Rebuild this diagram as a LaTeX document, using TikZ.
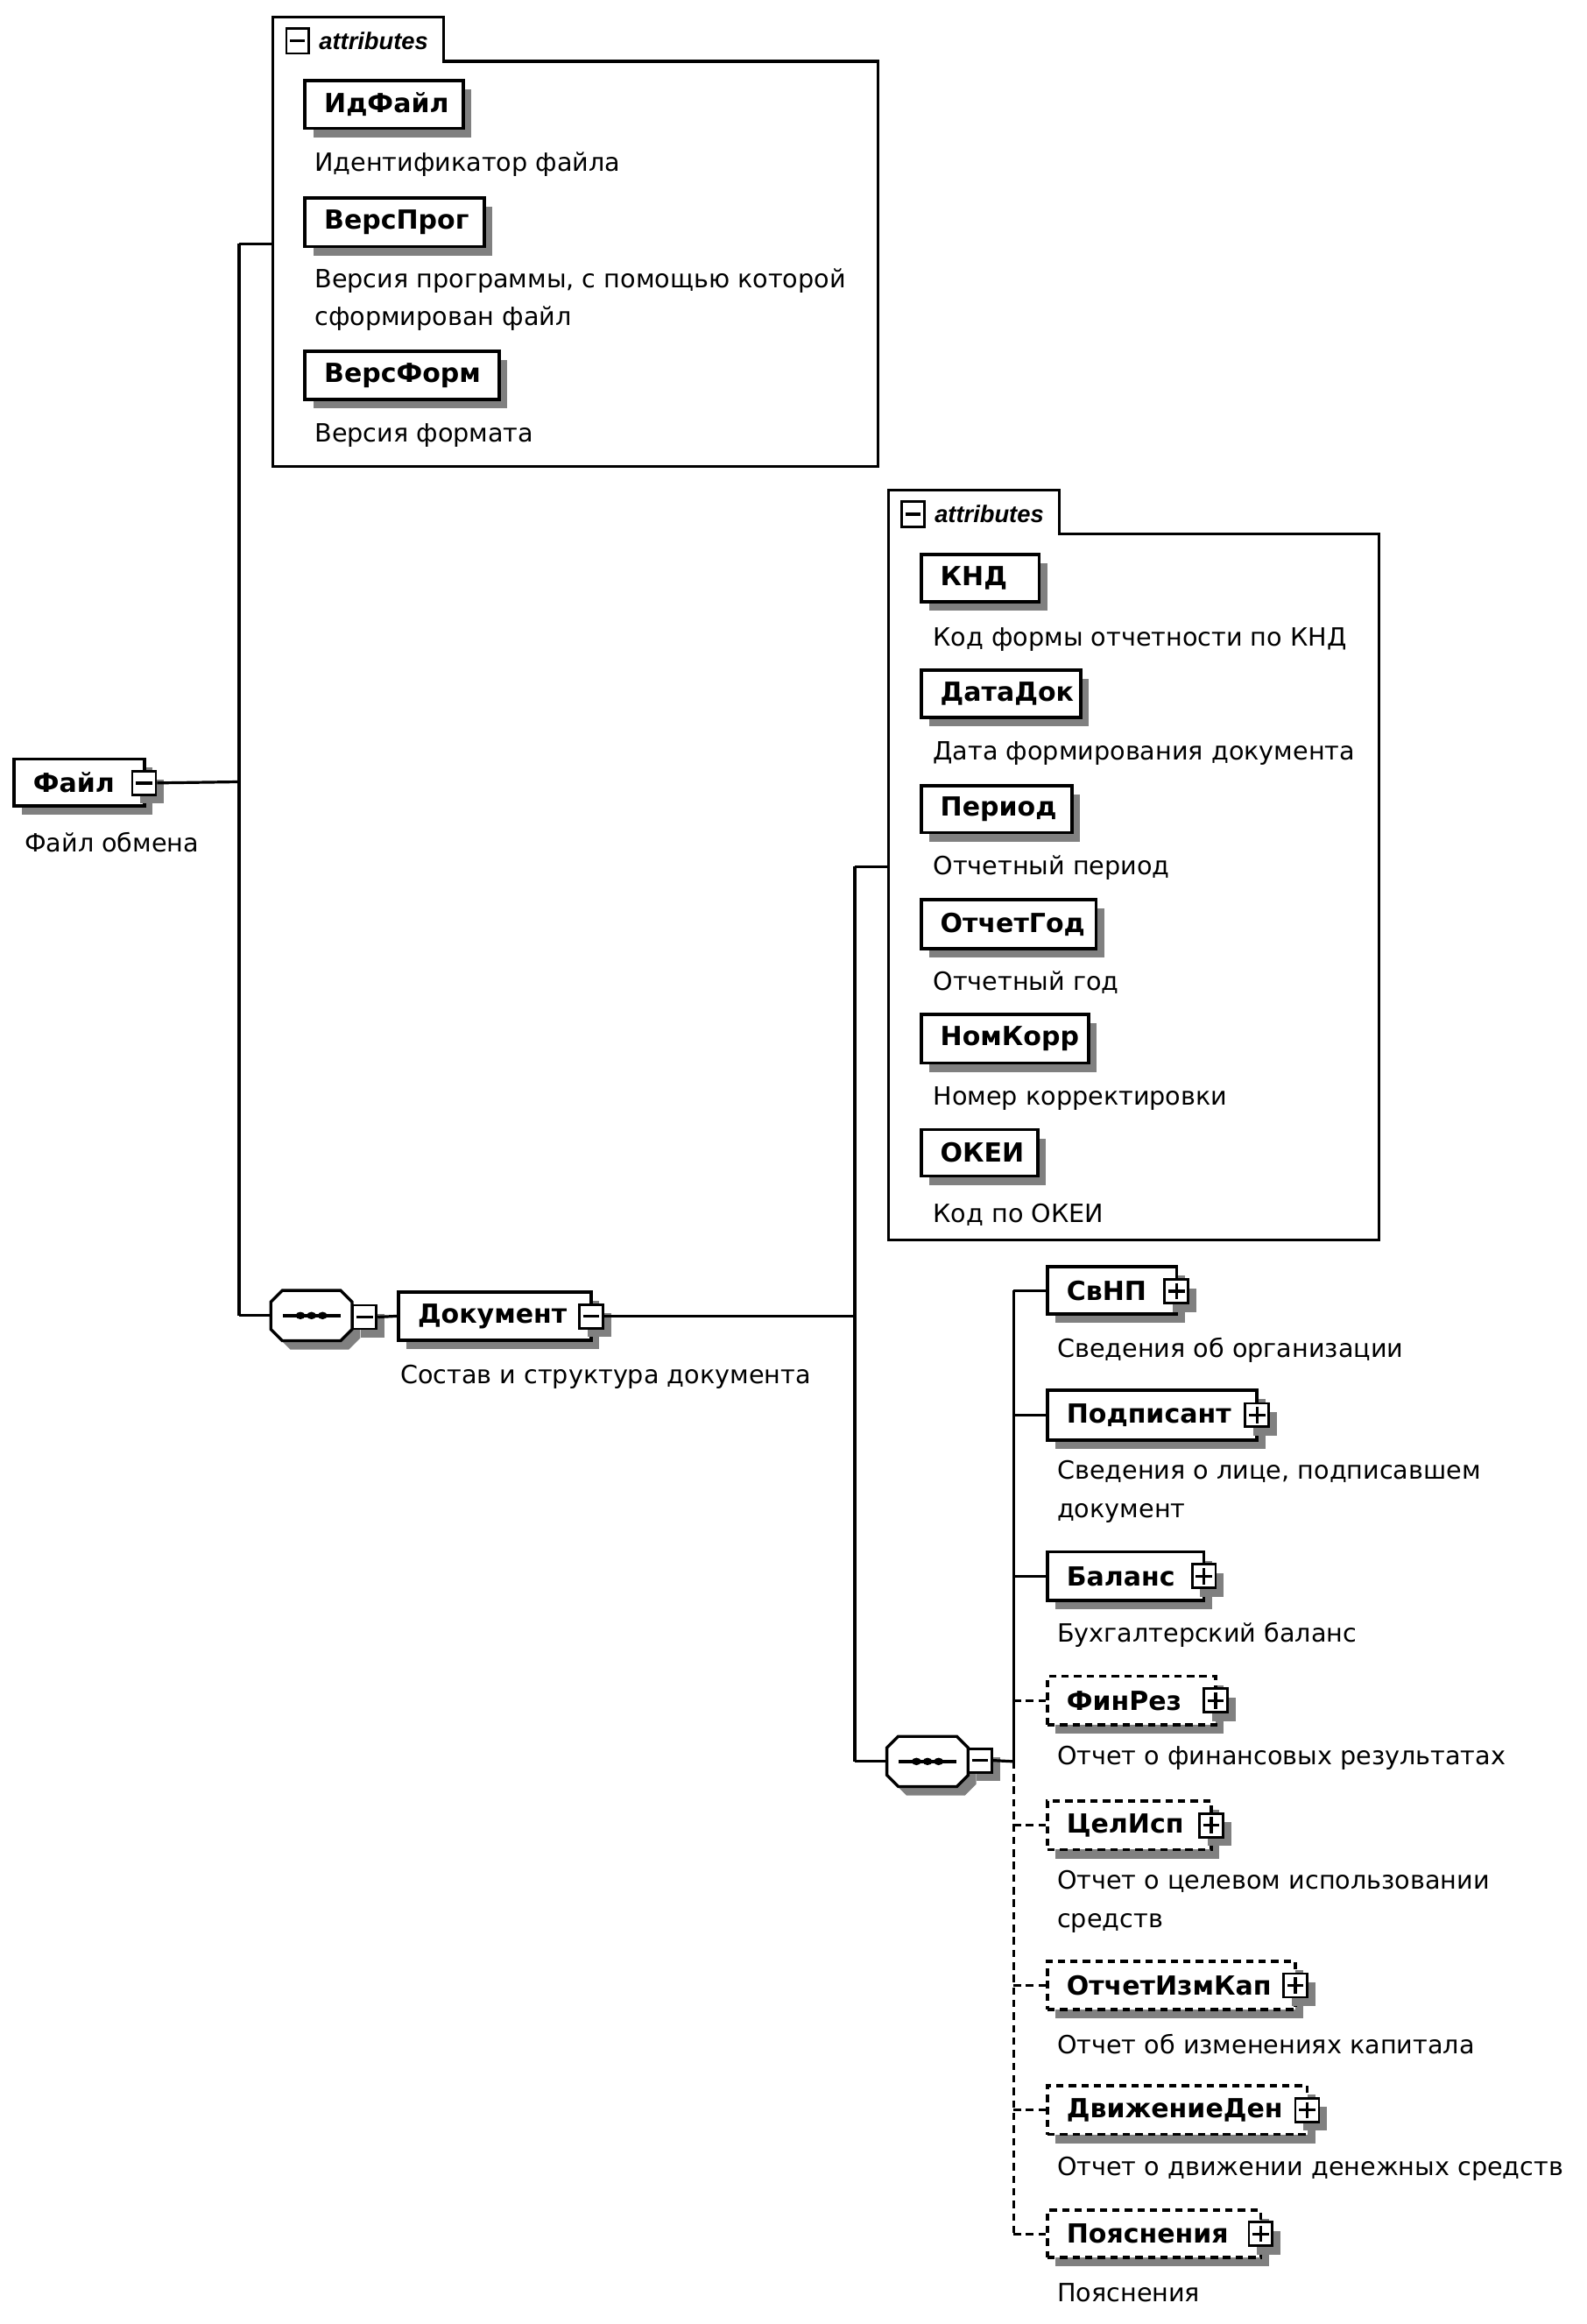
\documentclass[tikz,border=0pt]{standalone}
\usepackage{fontspec}
\setmainfont{DejaVu Sans}
\newfontfamily\attrfamily{Liberation Sans}
\usetikzlibrary{shadows}
\newcommand\lblfont{\bfseries\fontsize{17.8}{20}\selectfont}
\newcommand\dscfont{\fontsize{17}{26}\selectfont}
\newcommand\elbox[7][]{%
  \pgfmathsetmacro\bw{#5-#3}%
  \pgfmathsetmacro\bh{#6-#4}%
  \pgfmathsetmacro\bx{(#3+#5)/2}%
  \pgfmathsetmacro\by{(#4+#6)/2}%
  \pgfmathsetmacro\tw{\bw-26}%
  \node[elem,#1,minimum width=\bw pt,minimum height=\bh pt] (#2) at (\bx,\by) {\makebox[\tw pt][l]{#7}};}
\newcommand\seqnode[3]{%
  \pgfmathsetmacro\sqL{#2-27.5}\pgfmathsetmacro\sqR{#2+27.5}%
  \pgfmathsetmacro\sqT{#3-17}\pgfmathsetmacro\sqB{#3+17}%
  \fill[shadcol,shift={(5.5,6)}] ({\sqL+7.7},\sqT) -- ({\sqR-7.7},\sqT) -- (\sqR,{\sqT+7.7}) -- (\sqR,{\sqB-7.7}) -- ({\sqR-7.7},\sqB) -- ({\sqL+7.7},\sqB) -- (\sqL,{\sqB-7.7}) -- (\sqL,{\sqT+7.7}) -- cycle;
  \draw[line width=2pt,fill=white] ({\sqL+7.7},\sqT) -- ({\sqR-7.7},\sqT) -- (\sqR,{\sqT+7.7}) -- (\sqR,{\sqB-7.7}) -- ({\sqR-7.7},\sqB) -- ({\sqL+7.7},\sqB) -- (\sqL,{\sqB-7.7}) -- (\sqL,{\sqT+7.7}) -- cycle;
  \node[minimum width=55pt,minimum height=34pt,inner sep=0pt] (#1) at (#2,#3) {};
  \draw[line width=2.4pt] ({\sqL+8},#3) -- ({\sqR-8},#3);
  \foreach \d in {-7.5,0,7.5} \fill ({#2+\d},#3) ellipse (3.2pt and 2.5pt);}
\colorlet{shadcol}{black!50}
\tikzset{
  shad/.style={drop shadow={shadow xshift=5.5pt,shadow yshift=-6pt,fill=shadcol,opacity=1}},
  elem/.style={draw,line width=2.2pt,fill=white,inner xsep=13pt,inner ysep=0pt,font=\lblfont,shad},
  opt/.style={dash pattern=on 5pt off 3.5pt},
  expm/.style={draw,line width=1.7pt,fill=white,minimum width=16pt,minimum height=16pt,inner sep=0pt,
    path picture={\draw[line width=2pt] ([xshift=2.5pt]path picture bounding box.west) -- ([xshift=-2.5pt]path picture bounding box.east);}},
  expp/.style={draw,line width=1.7pt,fill=white,minimum width=16pt,minimum height=16pt,inner sep=0pt,
    path picture={\draw[line width=2pt] ([xshift=2.5pt]path picture bounding box.west) -- ([xshift=-2.5pt]path picture bounding box.east);
      \draw[line width=2pt] ([yshift=-2.5pt]path picture bounding box.north) -- ([yshift=2.5pt]path picture bounding box.south);}},
  desc/.style={anchor=west,inner sep=0pt,font=\dscfont,align=left},
  conn/.style={line width=1.9pt},
  abox/.style={line width=1.9pt},
  alabel/.style={anchor=west,inner sep=0pt,font=\attrfamily\bfseries\itshape\fontsize{16.2}{18}\selectfont},
}
\begin{document}
\begin{tikzpicture}[x=1pt,y=-1pt]
\useasboundingbox (0,0) rectangle (1075,1574);
% ---------- attributes of Файл
\draw[abox] (185,316) -- (185,11.5) -- (300.6,11.5) -- (300.6,41.5) -- (595,41.5) -- (595,316) -- cycle;
\node[expm,minimum width=15pt,minimum height=17pt] (a1m) at (201.5,27.7) {};
\node[alabel] (a1lbl) at (216,27.5) {attributes};
\coordinate (a1in) at (185,165);
\elbox{idf}{206.6}{54.4}{313.8}{87}{ИдФайл}
\node[desc] (idfd) at (213,111.5) {Идентификатор файла};
\elbox{vprog}{206.6}{134}{328}{167}{ВерсПрог}
\node[desc] (vprogd) at (213,203) {Версия программы, с помощью которой\\сформирован файл};
\elbox{vform}{206.6}{238}{338}{270.5}{ВерсФорм}
\node[desc] (vformd) at (213,295) {Версия формата};
% ---------- Файл
\elbox{file}{9.5}{514}{98}{546}{Файл}
\node[expm,shad] (filex) at (97.6,530.3) {};
\node[desc] (filed) at (16.5,570.5) {Файл обмена};
\coordinate (j0) at (162,529.5);
\coordinate (j1) at (162,165);
\coordinate (j2) at (162,891);
% ---------- sequence 1 and Документ
\seqnode{seq1}{211}{891}
\node[expm,shad] (seq1x) at (247,892) {};
\elbox{doc}{270}{875}{400.5}{907.7}{Документ}
\node[expm,shad] (docx) at (400.4,891.5) {};
\node[desc] (docd) at (271,932.4) {Состав и структура документа};
\coordinate (j3) at (579,891.5);
\coordinate (j4) at (579,587);
\coordinate (j5) at (579,1193);
% ---------- attributes of Документ
\draw[abox] (602,840) -- (602,332) -- (717.7,332) -- (717.7,361.5) -- (934,361.5) -- (934,840) -- cycle;
\node[expm,minimum width=15pt,minimum height=17pt] (a2m) at (618.5,348.2) {};
\node[alabel] (a2lbl) at (633,348) {attributes};
\coordinate (a2in) at (602,587);
\elbox{knd}{624}{375.5}{704}{407.5}{КНД}
\node[desc] (kndd) at (632,433) {Код формы отчетности по КНД};
\elbox{datadok}{624}{454}{732}{486}{ДатаДок}
\node[desc] (datadokd) at (632,510) {Дата формирования документа};
\elbox{period}{624}{532}{726}{564}{Период}
\node[desc] (periodd) at (632,588) {Отчетный период};
\elbox{otchgod}{624}{609.5}{742.5}{642.5}{ОтчетГод}
\node[desc] (otchgodd) at (632,665.5) {Отчетный год};
\elbox{nomkorr}{624}{687}{737.5}{720}{НомКорр}
\node[desc] (nomkorrd) at (632,744) {Номер корректировки};
\elbox{okei}{624}{765}{703}{796.5}{ОКЕИ}
\node[desc] (okeid) at (632,822.6) {Код по ОКЕИ};
% ---------- sequence 2 and children
\seqnode{seq2}{628.3}{1193}
\node[expm,shad] (seq2x) at (664,1192.3) {};
\coordinate (j6) at (686.5,1193);
\coordinate (j7) at (686.5,874);
\coordinate (j8) at (686.5,1513);
\elbox{svnp}{709.5}{858}{797}{890}{СвНП}
\node[expp,shad] (svnpx) at (797,874.5) {};
\node[desc] (svnpd) at (716,914.6) {Сведения об организации};
\elbox{podp}{709.5}{941.4}{851.5}{975.4}{Подписант}
\node[expp,shad] (podpx) at (851.5,958.4) {};
\node[desc] (podpd) at (716,1010.5) {Сведения о лице, подписавшем\\документ};
\elbox{bal}{709.5}{1051}{815.5}{1084}{Баланс}
\node[expp,shad] (balx) at (815.5,1067.5) {};
\node[desc] (bald) at (716,1107) {Бухгалтерский баланс};
\elbox[opt]{finrez}{709.5}{1135.3}{823.5}{1168.3}{ФинРез}
\node[expp,shad] (finrezx) at (823.5,1151.8) {};
\node[desc] (finrezd) at (716,1190.5) {Отчет о финансовых результатах};
\elbox[opt]{celisp}{709.5}{1219.7}{820.5}{1252.7}{ЦелИсп}
\node[expp,shad] (celispx) at (820.5,1236.2) {};
\node[desc] (celispd) at (716,1288) {Отчет о целевом использовании\\средств};
\elbox[opt]{izmkap}{709.5}{1328.2}{877.5}{1361.2}{ОтчетИзмКап}
\node[expp,shad] (izmkapx) at (877.5,1344.7) {};
\node[desc] (izmkapd) at (716,1384.3) {Отчет об изменениях капитала};
\elbox[opt]{dvden}{709.5}{1412.6}{885.5}{1445.6}{ДвижениеДен}
\node[expp,shad] (dvdenx) at (885.5,1429.1) {};
\node[desc] (dvdend) at (716,1468.6) {Отчет о движении денежных средств};
\elbox[opt]{poyasn}{709.5}{1497}{854}{1529}{Пояснения}
\node[expp,shad] (poyasnx) at (854,1513) {};
\node[desc] (poyasnd) at (716,1552.6) {Пояснения};
% ---------- connectors
\draw[conn] (filex.east) -- (j0);
\draw[conn] (j1) -- (j2);
\draw[conn] (j1) -- (a1in);
\draw[conn] (j2) -- (seq1.west);
\draw[conn] (seq1x.east) -- (doc.west);
\draw[conn] (docx.east) -- (j3);
\draw[conn] (j4) -- (j5);
\draw[conn] (j4) -- (a2in);
\draw[conn] (j5) -- (seq2.west);
\draw[conn] (seq2x.east) -- (j6);
\draw[conn] (j7) -- (j6);
\draw[conn,opt] (j6) -- (j8);
\draw[conn] (svnp.west -| j7) -- (svnp.west);
\draw[conn] (podp.west -| j7) -- (podp.west);
\draw[conn] (bal.west -| j7) -- (bal.west);
\draw[conn,opt] (finrez.west -| j7) -- (finrez.west);
\draw[conn,opt] (celisp.west -| j7) -- (celisp.west);
\draw[conn,opt] (izmkap.west -| j7) -- (izmkap.west);
\draw[conn,opt] (dvden.west -| j7) -- (dvden.west);
\draw[conn,opt] (poyasn.west -| j7) -- (poyasn.west);
\end{tikzpicture}
\end{document}
